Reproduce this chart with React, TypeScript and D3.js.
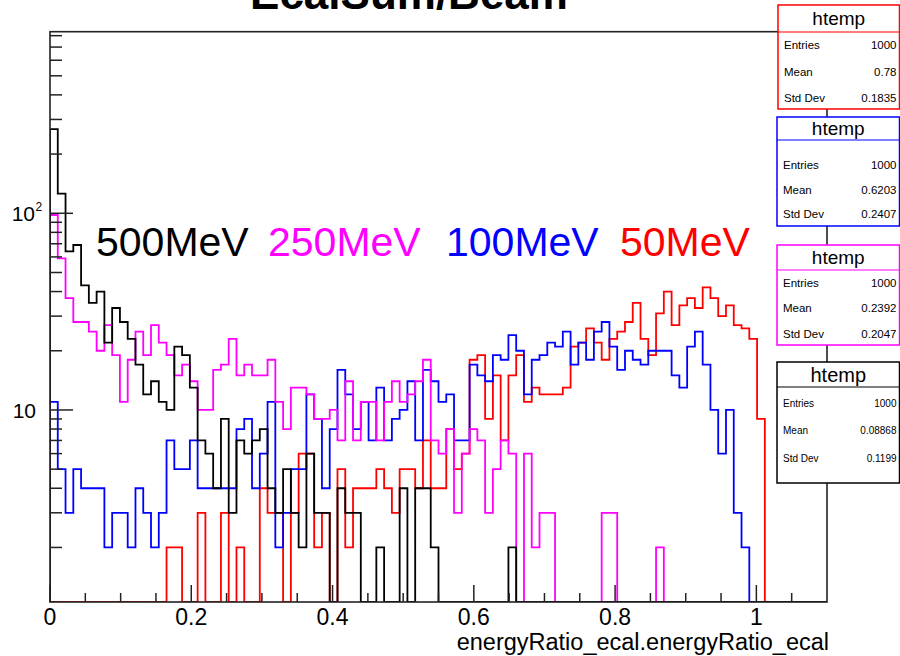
import React from 'react';
import * as d3 from 'd3';

// ---- data (counts per bin, 100 bins from 0 to 1.1) ----
const X_MIN = 0;
const X_MAX = 1.1;
const N_BINS = 100;

const black500 = [
  268, 126, 64, 69, 43, 35, 40, 22, 33, 28,
  23, 17, 12, 14, 11, 10, 21, 19, 13, 7,
  6, 4, 9, 3, 7, 6, 7, 8, 4, 3,
  5, 3, 2, 6, 3, 3, 0, 4, 3, 3,
  0, 0, 2, 0, 0, 4, 0, 4, 4, 2,
  0, 0, 0, 0, 0, 0, 0, 0, 0, 2,
  0, 0, 0, 0, 0, 0, 0, 0, 0, 0,
  0, 0, 0, 0, 0, 0, 0, 0, 0, 0,
  0, 0, 0, 0, 0, 0, 0, 0, 0, 0,
  0, 0, 0, 0, 0, 0, 0, 0, 0, 0,
];

const magenta250 = [
  98, 59, 37, 28, 28, 25, 20, 27, 19, 11,
  18, 25, 19, 27, 22, 19, 15, 17, 14, 10,
  10, 16, 17, 23, 15, 17, 15, 15, 18, 11,
  8, 13, 13, 12, 9, 9, 10, 7, 14, 7,
  11, 11, 7, 11, 14, 11, 12, 14, 18, 7,
  6, 8, 3, 6, 8, 7, 3, 5, 7, 6,
  0, 6, 2, 3, 3, 0, 0, 0, 0, 0,
  0, 3, 3, 0, 0, 0, 0, 0, 2, 0,
  0, 0, 0, 0, 0, 0, 0, 0, 0, 0,
  0, 0, 0, 0, 0, 0, 0, 0, 0, 0,
];

const blue100 = [
  11, 5, 3, 5, 4, 4, 4, 2, 3, 3,
  2, 4, 3, 2, 3, 7, 5, 5, 7, 4,
  4, 4, 4, 4, 8, 9, 4, 6, 11, 2,
  3, 5, 5, 12, 9, 4, 8, 16, 12, 8,
  11, 7, 13, 7, 9, 10, 14, 7, 16, 14,
  11, 12, 7, 7, 17, 15, 14, 19, 18, 24,
  20, 12, 18, 19, 22, 21, 25, 17, 22, 18,
  25, 28, 21, 16, 20, 18, 17, 20, 20, 20,
  15, 13, 21, 25, 17, 10, 6, 10, 3, 2,
  0, 0, 0, 0, 0, 0, 0, 0, 0, 0,
];

const red50 = [
  0, 0, 0, 0, 0, 0, 0, 0, 0, 0,
  0, 0, 0, 0, 0, 2, 2, 0, 0, 3,
  0, 0, 3, 0, 2, 0, 0, 4, 3, 3,
  0, 3, 6, 6, 2, 3, 0, 5, 2, 4,
  4, 4, 5, 4, 3, 5, 5, 4, 7, 4,
  4, 8, 5, 6, 18, 19, 9, 15, 7, 15,
  19, 11, 13, 12, 12, 12, 13, 21, 22, 26,
  22, 18, 23, 25, 28, 35, 23, 19, 31, 40,
  27, 34, 37, 33, 42, 37, 30, 34, 27, 26,
  23, 9, 0, 0, 0, 0, 0, 0, 0, 0,
];

const xTickMajor = [0, 0.2, 0.4, 0.6, 0.8, 1];
const xTickLabels = ['0', '0.2', '0.4', '0.6', '0.8', '1'];

const legendLabels = ['500MeV', '250MeV', '100MeV', '50MeV'];
const legendColors = ['#000000', '#ff00ff', '#0000ff', '#ff0000'];

const statNames = ['Entries', 'Mean', 'Std Dev'];
const statsRed = ['1000', '0.78', '0.1835'];
const statsBlue = ['1000', '0.6203', '0.2407'];
const statsMagenta = ['1000', '0.2392', '0.2047'];
const statsBlack = ['1000', '0.08868', '0.1199'];

// ---- layout ----
const W = 900;
const H = 656;
const FL = 50, FR = 827, FT = 31.7, FB = 602;
const FONT = "'Liberation Sans', Arial, Helvetica, sans-serif";

const x = d3.scaleLinear().domain([X_MIN, X_MAX]).range([FL, FR]);
const y = d3.scaleLog().domain([1.056, 838]).range([FB, FT]).clamp(true);

function histPath(values: number[]): string {
  const bw = (X_MAX - X_MIN) / N_BINS;
  const pts: [number, number][] = [];
  pts.push([x(X_MIN), FB]);
  values.forEach((v, i) => {
    const yy = v > 0 ? y(v) : FB;
    pts.push([x(X_MIN + i * bw), yy]);
    pts.push([x(X_MIN + (i + 1) * bw), yy]);
  });
  pts.push([x(X_MAX), FB]);
  return d3.line()(pts) || '';
}

type Box = { x: number; y: number; w: number; h: number; hy: number; color: string; vals: string[]; rows: number[]; fs: number; tfs: number };

const boxes: Box[] = [
  { x: 778, y: 5, w: 121.5, h: 104, hy: 32, color: '#ff0000', vals: statsRed, rows: [45, 71.5, 97.5], fs: 11.5, tfs: 19 },
  { x: 777, y: 117, w: 122.5, h: 109, hy: 140, color: '#0000ff', vals: statsBlue, rows: [165, 189.5, 213.5], fs: 11.5, tfs: 19 },
  { x: 777, y: 245, w: 122.5, h: 100, hy: 270, color: '#ff00ff', vals: statsMagenta, rows: [283, 308, 333.5], fs: 11.5, tfs: 19 },
  { x: 777, y: 362, w: 122.5, h: 121, hy: 387, color: '#000000', vals: statsBlack, rows: [403, 430.5, 458], fs: 10, tfs: 20 },
];

export default function App() {
  const yMajor = [10, 100];
  const yMinor: number[] = [];
  [1, 10, 100].forEach((d) => {
    for (let k = 2; k <= 9; k++) {
      const v = k * d;
      if (v > 1.056 && v < 838) yMinor.push(v);
    }
  });
  const xMinor: number[] = [];
  for (let k = 1; k <= 21; k++) {
    const v = +(k * 0.05).toFixed(2);
    if (Math.abs(v * 5 - Math.round(v * 5)) > 1e-6 && v < X_MAX) xMinor.push(v);
  }

  const hists = [
    { vals: red50, color: '#ff0000' },
    { vals: blue100, color: '#0000ff' },
    { vals: magenta250, color: '#ff00ff' },
    { vals: black500, color: '#000000' },
  ];

  const legendX = [96, 268, 446, 620];

  return (
    <svg width={W} height={H} style={{ position: 'absolute', left: 0, top: 0, background: '#fff' }} fontFamily={FONT}>
      <rect x={0} y={0} width={W} height={H} fill="#fff" />
      <defs>
        <clipPath id="frameClip">
          <rect x={FL} y={FT} width={FR - FL} height={FB - FT} />
        </clipPath>
      </defs>
      {/* title (cut at top, as in the original) */}
      <text x={409} y={9} textAnchor="middle" fontSize={44} fontWeight="bold" fill="#000">EcalSum/Beam</text>

      {/* histograms */}
      <g clipPath="url(#frameClip)">
        {hists.map((h, i) => (
          <path key={i} d={histPath(h.vals)} fill="none" stroke={h.color} strokeWidth={1.8} strokeLinejoin="miter" />
        ))}
      </g>

      {/* frame */}
      <rect x={FL} y={FT} width={FR - FL} height={FB - FT} fill="none" stroke="#222" strokeWidth={1.6} />

      {/* y ticks */}
      {yMajor.map((v) => (
        <line key={'ym' + v} x1={FL} x2={FL + 23} y1={y(v)} y2={y(v)} stroke="#222" strokeWidth={1.5} />
      ))}
      {yMinor.map((v) => (
        <line key={'yn' + v} x1={FL} x2={FL + 12} y1={y(v)} y2={y(v)} stroke="#222" strokeWidth={1.5} />
      ))}
      <text x={36} y={y(10) + 8} textAnchor="end" fontSize={21} fill="#000">10</text>
      <text x={35} y={y(100) + 8} textAnchor="end" fontSize={21} fill="#000">10</text>
      <text x={35.5} y={y(100) - 2} textAnchor="start" fontSize={12} fill="#000">2</text>

      {/* x ticks */}
      {xTickMajor.map((v) => (
        <line key={'xm' + v} x1={x(v)} x2={x(v)} y1={FB} y2={FB - 17} stroke="#222" strokeWidth={1.5} />
      ))}
      {xMinor.map((v) => (
        <line key={'xn' + v} x1={x(v)} x2={x(v)} y1={FB} y2={FB - 9} stroke="#222" strokeWidth={1.5} />
      ))}
      {xTickMajor.map((v, i) => (
        <text key={'xl' + v} x={x(v)} y={625} textAnchor="middle" fontSize={23} fill="#000">{xTickLabels[i]}</text>
      ))}
      <text x={829} y={650} textAnchor="end" fontSize={23.5} fill="#000">energyRatio_ecal.energyRatio_ecal</text>

      {/* legend labels */}
      {legendLabels.map((l, i) => (
        <text key={l} x={legendX[i]} y={256} fontSize={41} fill={legendColors[i]}>{l}</text>
      ))}

      {/* stats boxes */}
      {boxes.map((b, i) => (
        <g key={'box' + i}>
          <rect x={b.x} y={b.y} width={b.w} height={b.h} fill="#fff" stroke={b.color} strokeWidth={1.5} />
          <line x1={b.x} x2={b.x + b.w} y1={b.hy} y2={b.hy} stroke={b.color} strokeWidth={1.2} />
          <text x={b.x + b.w / 2} y={(b.y + b.hy) / 2 + b.tfs * 0.36} textAnchor="middle" fontSize={b.tfs} fill="#000">htemp</text>
          {statNames.map((n, j) => (
            <g key={n}>
              <text x={b.x + 6} y={b.rows[j] + b.fs * 0.36} fontSize={b.fs} fill="#000">{n}</text>
              <text x={b.x + b.w - 3} y={b.rows[j] + b.fs * 0.36} textAnchor="end" fontSize={b.fs} fill="#000">{b.vals[j]}</text>
            </g>
          ))}
        </g>
      ))}
    </svg>
  );
}
